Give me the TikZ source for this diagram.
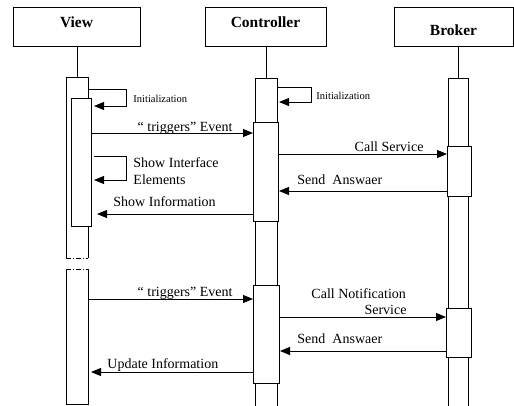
\documentclass[tikz,border=0pt]{standalone}
\usepackage{fontspec}
\setmainfont{Liberation Serif}
\usetikzlibrary{arrows.meta,calc}
\begin{document}
\begin{tikzpicture}[x=1pt,y=-1pt,
  line width=0.9pt,
  hdr/.style={draw, inner sep=0, outer sep=0, anchor=north west,
    minimum width=#1, minimum height=39pt},
  bar/.style 2 args={inner sep=0, outer sep=0, anchor=north west,
    minimum width=#1, minimum height=#2},
  act/.style={draw, fill=white},
  msg/.style={-{Triangle[length=10pt,width=8pt]}},
  lbl/.style={font=\fontsize{14}{15}\selectfont, inner sep=0},
  small/.style={font=\fontsize{10.5}{12}\selectfont, inner sep=0},
  title/.style={font=\fontsize{15.5}{17}\selectfont\bfseries, inner sep=0},
  brk/.style={dash pattern=on 5pt off 2pt on 1pt off 2pt}]
\useasboundingbox (0,0) rectangle (514,405);

% object headers
\node[hdr=127pt] (view) at (13,7) {};
\node[hdr=121pt] (ctrl) at (205,7) {};
\node[hdr=119pt] (brok) at (394,7) {};
\node[title, anchor=base] (tview) at (76.5,27) {View};
\node[title, anchor=base] (tctrl) at (265.5,27) {Controller};
\node[title, anchor=base] (tbrok) at (453.5,35) {Broker};

% activation bars
\node[bar={22pt}{181pt}] (vact1) at (66,77) {};
\node[bar={22pt}{135pt}] (vact2) at (66,269) {};
\node[bar={22pt}{330pt}] (cact) at (255,78) {};
\node[bar={20pt}{330pt}] (bact) at (448,78) {};

% lifelines
\draw (vact1.north) -- (vact1.north |- view.south);
\draw (cact.north) -- (cact.north |- ctrl.south);
\draw (bact.north) -- (bact.north |- brok.south);

% View bars (broken between the two phases)
\draw (vact1.south west) -- (vact1.north west) -- (vact1.north east) -- (vact1.south east);
\draw[brk] (vact1.south west) -- (vact1.south east);
\draw (vact2.north west) -- (vact2.south west) -- (vact2.south east) -- (vact2.north east);
\draw[brk] (vact2.north west) -- (vact2.north east);
\node[bar={20pt}{128pt}, act] (vinner) at (71,98) {};

% Controller and Broker bars (open at the bottom)
\draw (cact.south west) -- (cact.north west) -- (cact.north east) -- (cact.south east);
\draw (bact.south west) -- (bact.north west) -- (bact.north east) -- (bact.south east);
\node[bar={25pt}{99pt}, act] (cin1) at (253,122) {};
\node[bar={26pt}{98pt}, act] (cin2) at (253,285) {};
\node[bar={24pt}{50pt}, act] (bin1) at (447,146) {};
\node[bar={25pt}{49pt}, act] (bin2) at (446,308) {};

% self calls
\draw[msg] (vact1.east |- 0,89) -| (126,106) -- ($(vinner.east |- 0,106)+(3,0)$);
\node[small, anchor=west] (linitv) at (133,99) {Initialization};
\draw[msg] (cact.east |- 0,87) -| (311,102) -- ($(cact.east |- 0,102)+(2,0)$);
\node[small, anchor=west] (linitc) at (316,96) {Initialization};
\draw[msg] ($(vinner.east |- 0,156)+(3,0)$) -| (126,180) -- ($(vinner.east |- 0,180)+(3,0)$);
\node[lbl, anchor=base west] (lsie1) at (133,167) {Show Interface};
\node[lbl, anchor=base west] (lsie2) at (133,184) {Elements};

% first interaction
\draw[msg] (vinner.east |- 0,133) -- (cin1.west |- 0,133);
\node[lbl, anchor=base east] (ltrig1) at (233,131) {“ triggers” Event};
\draw[msg] (cin1.east |- 0,154) -- (bin1.west |- 0,154);
\node[lbl, anchor=base east] (lcall) at (424,151) {Call Service};
\draw[msg] (bin1.west |- 0,191) -- ($(cin1.east |- 0,191)+(1,0)$);
\node[lbl, anchor=base west] (lsend1) at (297,184) {Send\ \ Answaer};
\draw[msg] (cin1.west |- 0,214) -- ($(vinner.east |- 0,214)+(6,0)$);
\node[lbl, anchor=base west] (lshow) at (113,206) {Show Information};

% second interaction
\draw[msg] (vact2.east |- 0,299) -- (cin2.west |- 0,299);
\node[lbl, anchor=base east] (ltrig2) at (233,296) {“ triggers” Event};
\draw[msg] (cin2.east |- 0,317) -- (bin2.west |- 0,317);
\node[lbl, anchor=base west] (lcn1) at (311,298) {Call Notification};
\node[lbl, anchor=base east] (lcn2) at (407,314) {Service};
\draw[msg] (bin2.west |- 0,351) -- ($(cin2.east |- 0,351)+(1,0)$);
\node[lbl, anchor=base west] (lsend2) at (297,343) {Send\ \ Answaer};
\draw[msg] (cin2.west |- 0,372) -- ($(vact2.east |- 0,372)+(3,0)$);
\node[lbl, anchor=base west] (lupd) at (107,368) {Update Information};
\end{tikzpicture}
\end{document}
